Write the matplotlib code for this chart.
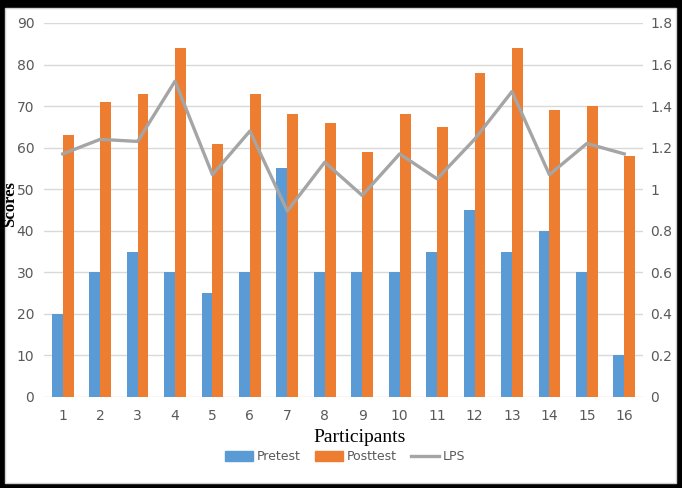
import matplotlib.pyplot as plt
import numpy as np
from matplotlib.patches import Rectangle, Patch
from matplotlib.lines import Line2D
from matplotlib.ticker import FuncFormatter

# Data
participants = [str(i) for i in range(1, 17)]
pretest = [20, 30, 35, 30, 25, 30, 55, 30, 30, 30, 35, 45, 35, 40, 30, 10]
posttest = [63, 71, 73, 84, 61, 73, 68, 66, 59, 68, 65, 78, 84, 69, 70, 58]
lps = [1.17, 1.24, 1.23, 1.52, 1.07, 1.28, 0.895, 1.13, 0.97, 1.17, 1.05, 1.24, 1.47, 1.07, 1.22, 1.17]

blue = "#5B9BD5"
orange = "#ED7D31"
gray = "#A5A5A5"
txt = "#595959"

fig = plt.figure(figsize=(6.82, 4.88), dpi=100, facecolor="black")
# white inner panel inside the black frame
fig.add_artist(Rectangle((5 / 682, 5 / 488), 671 / 682, 475 / 488,
                         transform=fig.transFigure, facecolor="white",
                         edgecolor="#d0d0d0", linewidth=1, zorder=0))

ax = fig.add_axes([44 / 682, 91 / 488, 599 / 682, 374 / 488])
ax.set_facecolor("none")
x = np.arange(1, 17)
w = 0.29
ax.bar(x - w / 2, pretest, w, color=blue, zorder=3)
ax.bar(x + w / 2, posttest, w, color=orange, zorder=3)
ax.set_ylim(0, 90)
ax.set_xlim(0.5, 16.5)
ax.set_yticks(range(0, 91, 10))
ax.set_xticks(x)
ax.set_xticklabels(participants)
ax.grid(axis="y", color="#d9d9d9", linewidth=1, zorder=0)
for s in ax.spines.values():
    s.set_visible(False)
ax.tick_params(axis="x", length=0, colors=txt, labelsize=10, pad=9)
ax.tick_params(axis="y", length=0, colors=txt, labelsize=10, pad=7)

ax2 = ax.twinx()
ax2.plot(x, lps, color=gray, linewidth=2.4, zorder=4)
ax2.set_ylim(0, 1.8)
ax2.set_yticks(np.arange(0, 1.81, 0.2))
ax2.yaxis.set_major_formatter(FuncFormatter(lambda v, p: "%g" % round(v, 1)))
for s in ax2.spines.values():
    s.set_visible(False)
ax2.tick_params(length=0, colors=txt, labelsize=10, pad=5)

fig.text(10 / 682, (488 - 204) / 488, "Scores", family="Liberation Serif", fontweight="bold",
         fontsize=12, rotation=90, ha="center", va="center")
fig.text(360 / 682, (488 - 437) / 488, "Participants", family="Liberation Serif", fontsize=14,
         ha="center", va="center")

handles = [Patch(color=blue), Patch(color=orange), Line2D([], [], color=gray, linewidth=2.4)]
fig.legend(handles, ["Pretest", "Posttest", "LPS"], loc="center", bbox_to_anchor=(0.506, 0.064),
           ncol=3, frameon=False, prop={"size": 9}, labelcolor=txt,
           handlelength=2.2, handleheight=0.8, columnspacing=1.2, handletextpad=0.3)

fig.savefig("out.png", dpi=100, facecolor="black")
